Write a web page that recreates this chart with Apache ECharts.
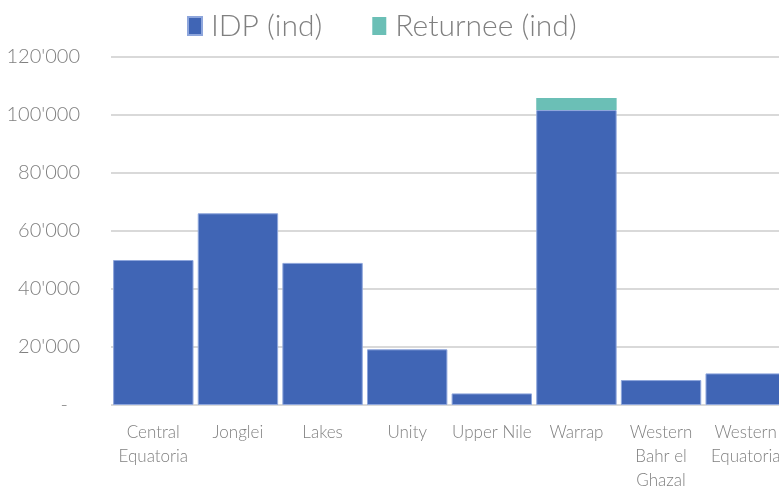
<!DOCTYPE html>
<html>
<head>
<meta charset="utf-8">
<title>IDP / Returnee</title>
<script src="https://cdn.jsdelivr.net/npm/echarts@6/dist/echarts.min.js"></script>
<style>
  html, body { margin: 0; padding: 0; background: #fff; }
  #main { width: 779px; height: 488px; }
</style>
</head>
<body>
<div id="main"></div>
<script>
// states (x axis)
var states = ['Central\nEquatoria', 'Jonglei', 'Lakes', 'Unity', 'Upper Nile', 'Warrap', 'Western\nBahr el\nGhazal', 'Western\nEquatoria'];
// individuals
var idp      = [50000, 66100, 49000, 19200, 4000, 101700, 8600, 10900];
var returnee = [0, 0, 0, 0, 0, 4150, 0, 0];
var yTicks = [0, 20000, 40000, 60000, 80000, 100000, 120000];

var font = 'Lato';
var grey = '#808080';

function fmt(v) {
    // zero shown as a dash, like the accounting format
    if (v === 0) return '{d|-}';
    return String(v).replace(/\B(?=(\d{3})+(?!\d))/g, "'");
}

var chart = echarts.init(document.getElementById('main'));
chart.setOption({
    animation: false,
    legend: {
        top: 6,
        left: 182,
        itemWidth: 14,
        itemHeight: 18,
        itemGap: 50,
        icon: 'rect',
        textStyle: { fontFamily: font, fontWeight: 300, fontSize: 30, color: grey, padding: [0, 0, 0, 4] },
        data: ['IDP (ind)', 'Returnee (ind)']
    },
    grid: { left: 111, top: 57, width: 677, height: 348, outerBoundsMode: 'none', containLabel: false },
    xAxis: {
        type: 'category',
        data: states,
        axisLine: { show: false },
        axisTick: { show: false },
        axisLabel: {
            interval: 0, margin: 16, lineHeight: 24,
            fontFamily: font, fontWeight: 300, fontSize: 17, color: grey
        }
    },
    yAxis: {
        type: 'value',
        min: yTicks[0],
        max: yTicks[yTicks.length - 1],
        interval: 20000,
        axisLine: { show: false },
        axisTick: { show: false },
        splitLine: { lineStyle: { color: '#d9d9d9', width: 2 } },
        axisLabel: {
            margin: 31,
            fontFamily: font, fontWeight: 300, fontSize: 20, color: grey,
            formatter: fmt,
            rich: {
                d: { fontFamily: font, fontWeight: 300, fontSize: 20, color: grey, padding: [0, 12, 0, 0] }
            }
        }
    },
    series: [
        {
            name: 'IDP (ind)',
            type: 'bar',
            stack: 'a',
            barCategoryGap: '5%',
            itemStyle: { color: '#4065b5', borderColor: '#8ea6dc', borderWidth: 1 },
            data: idp
        },
        {
            name: 'Returnee (ind)',
            type: 'bar',
            stack: 'a',
            barCategoryGap: '5%',
            itemStyle: { color: '#6bbfb6' },
            data: returnee
        }
    ]
});
</script>
</body>
</html>
